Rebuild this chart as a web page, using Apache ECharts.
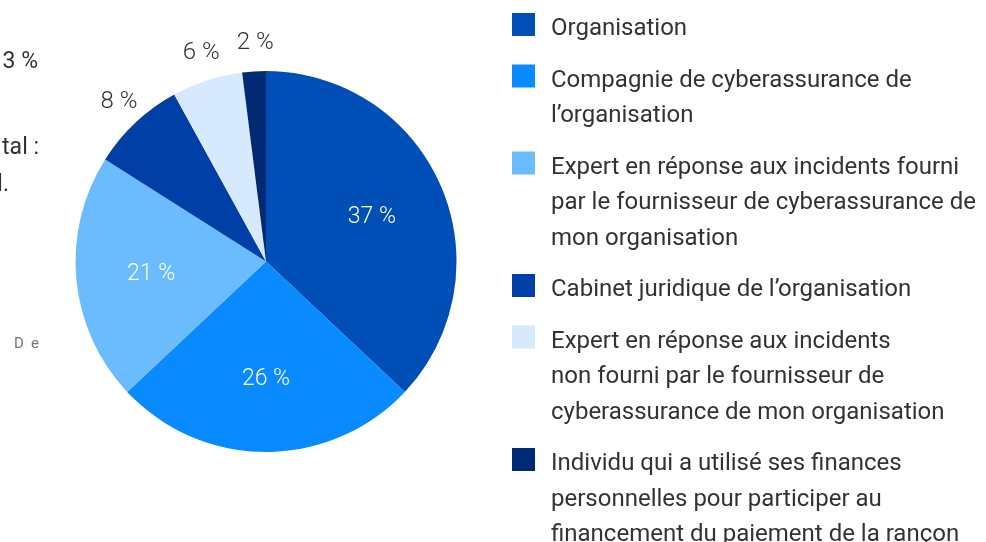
<!DOCTYPE html>
<html>
<head>
<meta charset="utf-8">
<script src="https://cdn.jsdelivr.net/npm/echarts@6/dist/echarts.min.js"></script>
<style>
html,body{margin:0;padding:0;background:#fff;}
#chart{width:986px;height:542px;}
</style>
</head>
<body>
<div id="chart"></div>
<script>
// ---- data ----
const categories = [
  "Organisation",
  "Compagnie de cyberassurance de l’organisation",
  "Expert en réponse aux incidents fourni par le fournisseur de cyberassurance de mon organisation",
  "Cabinet juridique de l’organisation",
  "Expert en réponse aux incidents non fourni par le fournisseur de cyberassurance de mon organisation",
  "Individu qui a utilisé ses finances personnelles pour participer au financement du paiement de la rançon"
];
const legendLabels = [
  "Organisation",
  "Compagnie de cyberassurance de\nl’organisation",
  "Expert en réponse aux incidents fourni\npar le fournisseur de cyberassurance de\nmon organisation",
  "Cabinet juridique de l’organisation",
  "Expert en réponse aux incidents\nnon fourni par le fournisseur de\ncyberassurance de mon organisation",
  "Individu qui a utilisé ses finances\npersonnelles pour participer au\nfinancement du paiement de la rançon"
];
const values = [37, 26, 21, 8, 6, 2];
const colors = ["#004FB6", "#098BFF", "#6BBCFF", "#003FA5", "#D7E9FC", "#002B74"];
// fragments of neighbouring content visible at the left edge
const strayTexts = ["3 %", "tal :", "l.", "D e"];

// ---- layout ----
const FONT = "Roboto, 'Noto Sans', sans-serif";
const CX = 266, CY = 261.5, R = 190.5;

const fmt = p => p.value + " %";

function dataFor(showFn) {
  return categories.map((c, i) => ({
    name: c,
    value: values[i],
    label: { show: showFn(values[i]) }
  }));
}

// legend drawn as graphic elements
const graphics = [];
let y0 = 27;
const LH = 35.5, GAP = 16;
legendLabels.forEach((t, i) => {
  const lines = t.split("\n").length;
  graphics.push({
    type: "rect", left: 512, top: y0 - 14,
    shape: { width: 23, height: 23 },
    style: { fill: colors[i] }
  });
  graphics.push({
    type: "text", left: 551, top: y0 - LH / 2 + 2,
    style: { text: t, font: "24px " + FONT, fill: "#333", lineHeight: LH, verticalAlign: "top" }
  });
  y0 += lines * LH + GAP;
});
graphics.push({ type: "text", right: 948, top: 51, style: { text: strayTexts[0], font: "23px " + FONT, fill: "#333" } });
graphics.push({ type: "text", right: 947, top: 137, style: { text: strayTexts[1], font: "23px " + FONT, fill: "#333" } });
graphics.push({ type: "text", right: 977, top: 174, style: { text: strayTexts[2], font: "23px " + FONT, fill: "#333" } });
strayTexts[3].split(" ").forEach((ch, k) => {
  graphics.push({ type: "text", left: 14 + k * 17, top: 337, style: { text: ch, font: "15px " + FONT, fill: "#777" } });
});

const chart = echarts.init(document.getElementById("chart"), null, { renderer: "canvas" });
chart.setOption({
  animation: false,
  color: colors,
  graphic: graphics,
  series: [
    {
      type: "pie",
      center: [CX, CY],
      radius: [0, R],
      startAngle: 90,
      clockwise: true,
      label: { show: false },
      labelLine: { show: false },
      itemStyle: { borderWidth: 0 },
      silent: true,
      data: categories.map((c, i) => ({ name: c, value: values[i] }))
    },
    {
      type: "pie",
      center: [CX, CY],
      radius: [R * 0.18, R],
      startAngle: 90,
      silent: true,
      itemStyle: { color: "rgba(0,0,0,0)" },
      label: { position: "inside", formatter: fmt, color: "#fff", fontSize: 23, fontWeight: 300, fontFamily: FONT, offset: [0, 2] },
      labelLine: { show: false },
      data: dataFor(v => v >= 10)
    },
    {
      type: "pie",
      center: [CX, CY],
      radius: [R, R * 1.268],
      startAngle: 90,
      silent: true,
      itemStyle: { color: "rgba(0,0,0,0)" },
      label: { position: "inside", formatter: fmt, color: "#333", fontSize: 24, fontWeight: 300, fontFamily: FONT, offset: [3, 0] },
      labelLine: { show: false },
      data: dataFor(v => v < 10)
    }
  ]
});
</script>
</body>
</html>
